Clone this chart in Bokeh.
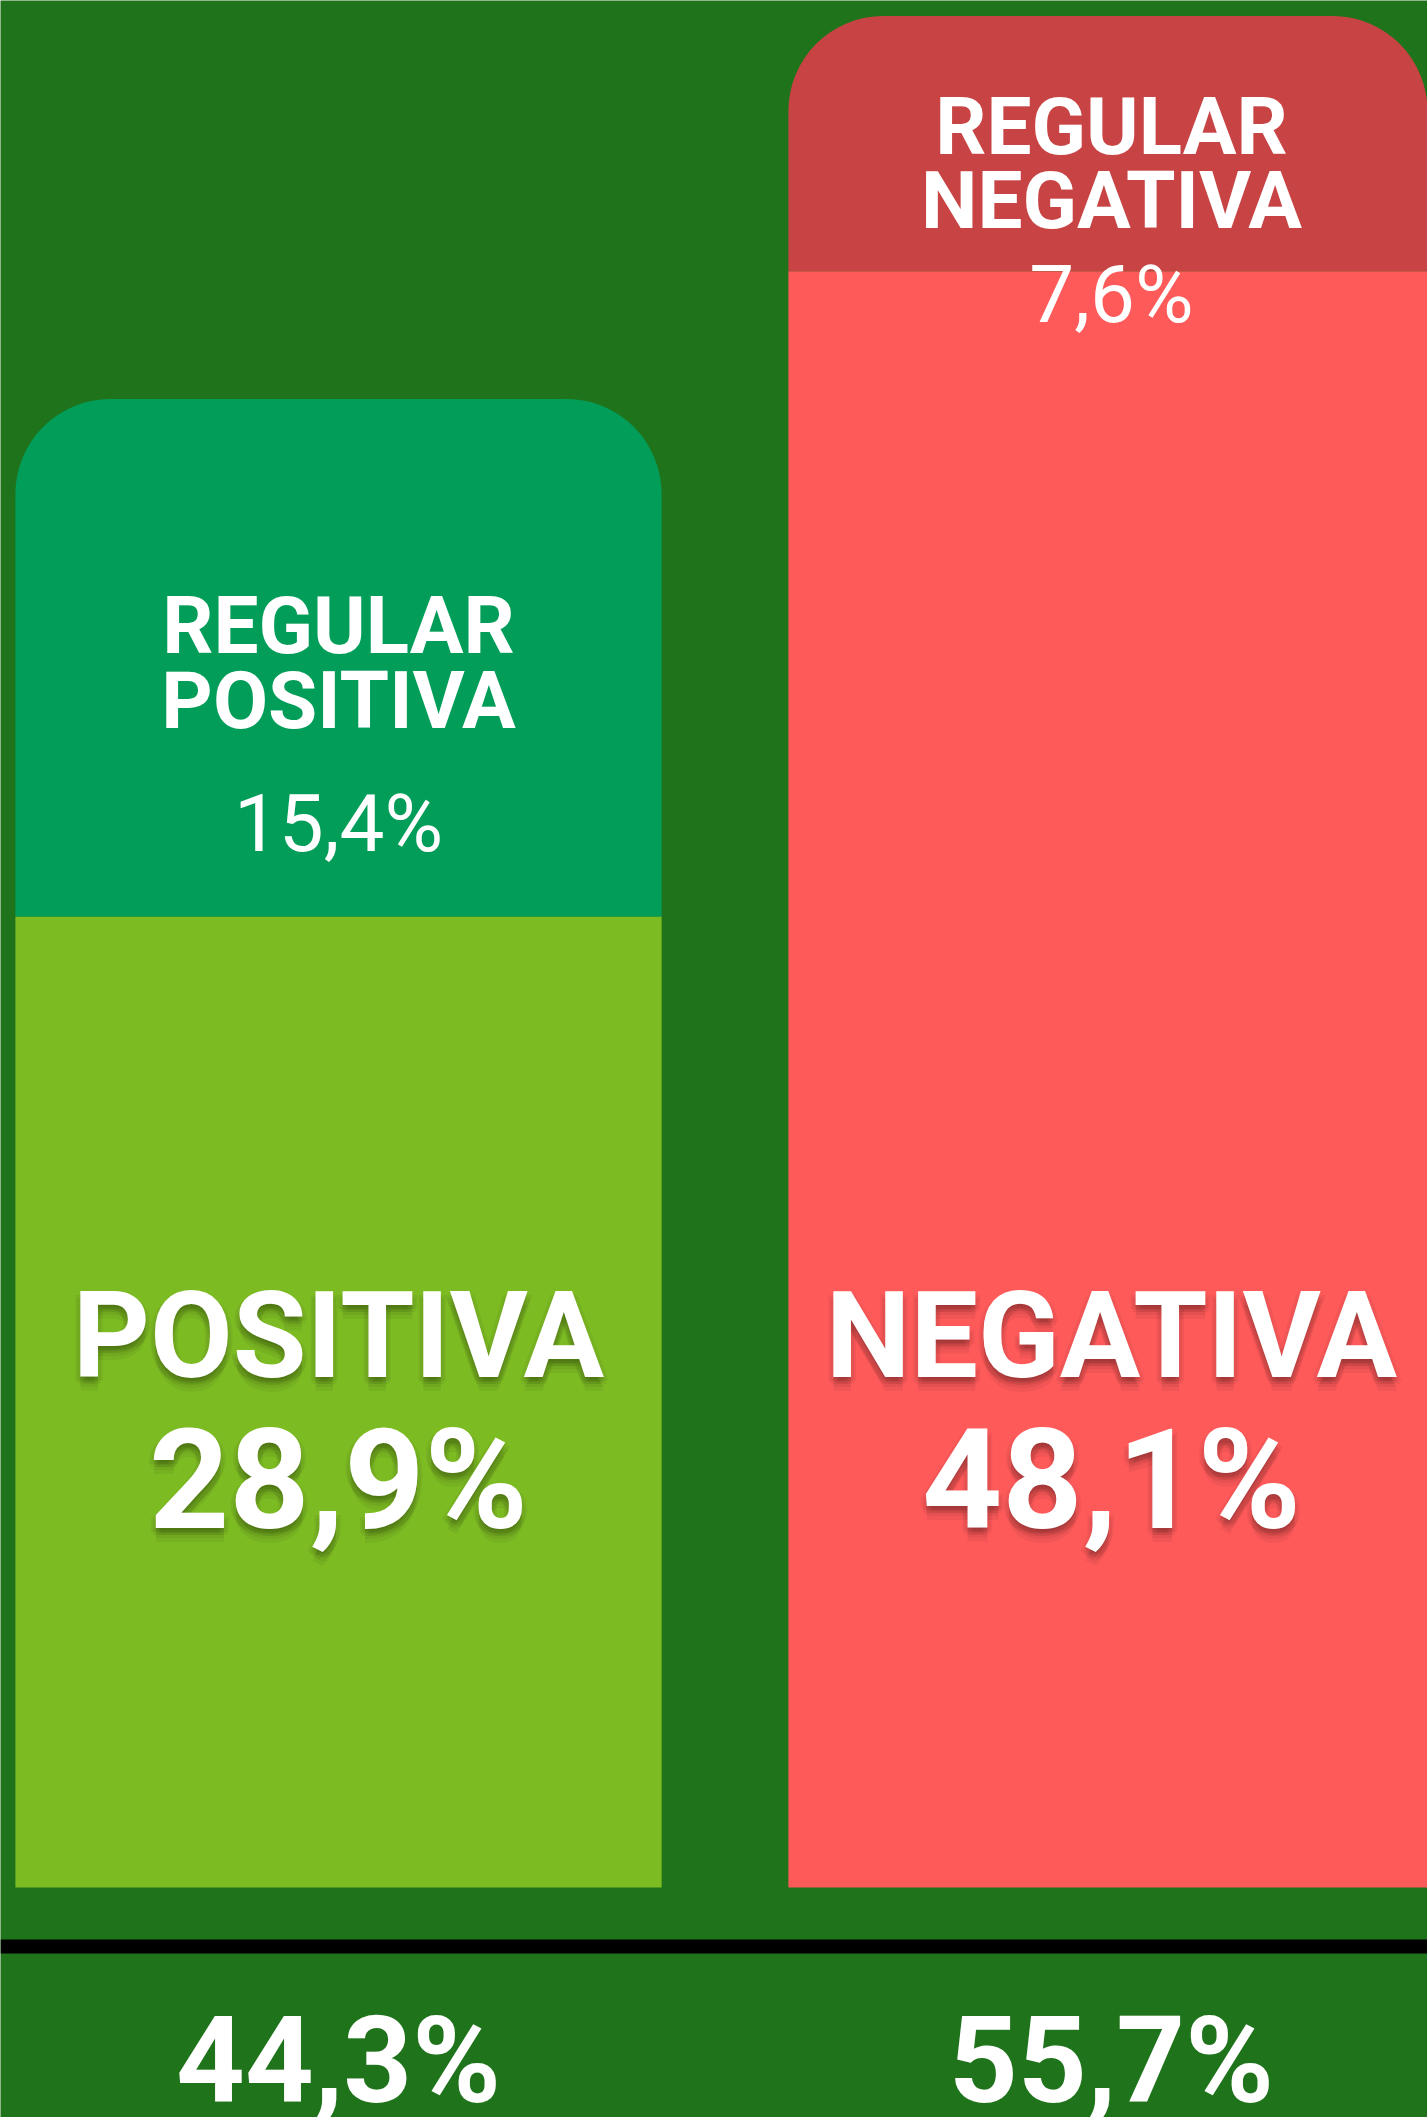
from bokeh.plotting import figure
from bokeh.models import Range1d, Span
from bokeh.core.properties import value
from bokeh.embed import file_html
from bokeh.resources import INLINE

# ---------------- data ----------------
groups = ["POSITIVA", "NEGATIVA"]
main_values = [28.9, 48.1]          # Positiva / Negativa
regular_values = [15.4, 7.6]        # Regular positiva / Regular negativa
regular_line1 = ["REGULAR", "REGULAR"]
regular_line2 = ["POSITIVA", "NEGATIVA"]
totals = [44.3, 55.7]

# ---------------- styles / layout ----------------
BG = "#1F731B"
MAIN_COLORS = ["#7DBB23", "#FF5A5A"]
REG_COLORS = ["#029D59", "#C84343"]
W, H = 1427, 2117
PX_PER_UNIT = 33.6          # vertical pixels per percentage point
PITCH = 773                  # horizontal pixels between bar centres
FIRST_CENTER_PX = 338        # first bar centre from figure left
BASE_PX = 1887               # bar base from figure top
BAR_W = 0.836
RADIUS = 95
BASELINE_FIX = 0.35          # em correction for the text baseline
# baseline offsets (px below top of the bar) for: line1, line2, percentage
REG_OFFSETS = [[255, 330, 453], [139, 213, 307]]
MAIN_LABEL_OFFSET = [-24, 127]   # px below the centre of the smaller main segment
TOTAL_OFFSET = 215               # px below the base
LINE_OFFSET = 59                 # px below the base

FONT = value("Roboto")

def fmt(v):
    return f"{v:.1f}".replace(".", ",") + "%"

def px(v):
    return v / PX_PER_UNIT

def fix(size):
    return px(size * BASELINE_FIX)

xs = list(range(len(groups)))
x0 = -FIRST_CENTER_PX / PITCH
x1 = x0 + W / PITCH
y1 = BASE_PX / PX_PER_UNIT
y0 = y1 - H / PX_PER_UNIT

p = figure(width=W, height=H, x_range=Range1d(x0, x1), y_range=Range1d(y0, y1),
           output_backend="svg", toolbar_location=None, min_border=0,
           x_axis_location=None, y_axis_location=None)
p.grid.visible = False
p.outline_line_color = None
p.background_fill_color = BG
p.border_fill_color = BG

tops = [m + r for m, r in zip(main_values, regular_values)]

# main segments
p.vbar(x=xs, width=BAR_W, bottom=0, top=main_values, fill_color=MAIN_COLORS, line_color=None)
# regular segments with rounded top corners
p.vbar(x=xs, width=BAR_W, bottom=main_values, top=tops, fill_color=REG_COLORS,
       line_color=None, border_radius=(RADIUS, RADIUS, 0, 0))

for i, x in enumerate(xs):
    o = REG_OFFSETS[i]
    top = tops[i]
    for txt, off, style in [(regular_line1[i], o[0], "bold"),
                            (regular_line2[i], o[1], "bold"),
                            (fmt(regular_values[i]), o[2], "normal")]:
        p.text(x=[x], y=[top - px(off) + fix(80)], text=[txt], text_font=FONT,
               text_font_style=style, text_font_size="80px", text_color="white",
               text_align="center", text_baseline="alphabetic")

mid = min(main_values) / 2
shadow = [(0, 5), (3, 7), (-3, 7), (0, 10), (5, 4), (-5, 4), (0, 2), (0, 14)]
for i, x in enumerate(xs):
    for txt, off, size in [(groups[i], MAIN_LABEL_OFFSET[0], 120),
                           (fmt(main_values[i]), MAIN_LABEL_OFFSET[1], 140)]:
        y = mid - px(off) + fix(size)
        for dx, dy in shadow:
            p.text(x=[x + dx / PITCH], y=[y - px(dy)], text=[txt], text_font=FONT,
                   text_font_style="bold", text_font_size=f"{size}px", text_color="black",
                   text_alpha=0.05, text_align="center", text_baseline="alphabetic")
        p.text(x=[x], y=[y], text=[txt], text_font=FONT,
               text_font_style="bold", text_font_size=f"{size}px", text_color="white",
               text_align="center", text_baseline="alphabetic")

# totals below the line
p.text(x=xs, y=[-px(TOTAL_OFFSET) + fix(120)] * len(xs), text=[fmt(t) for t in totals],
       text_font=FONT, text_font_style="bold", text_font_size="120px", text_color="white",
       text_align="center", text_baseline="alphabetic")

p.add_layout(Span(location=-px(LINE_OFFSET), dimension="width", line_color="black", line_width=14))

open("out.html", "w").write(file_html(p, INLINE))
